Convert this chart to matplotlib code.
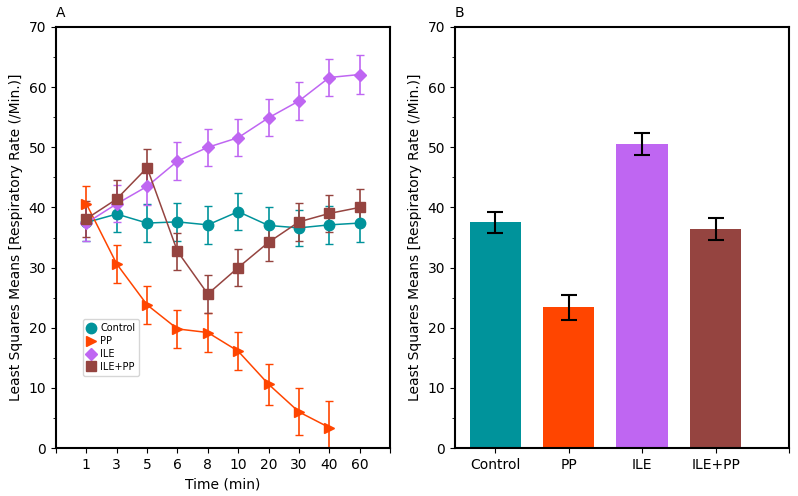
import matplotlib.pyplot as plt
from matplotlib.ticker import MultipleLocator
from matplotlib.lines import Line2D
import numpy as np

# time course data (panel A)
times = ['1', '3', '5', '6', '8', '10', '20', '30', '40', '60']
control = [37.5, 38.9, 37.4, 37.6, 37.1, 39.3, 37.0, 36.6, 37.1, 37.4]
control_err = [3.0, 3.0, 3.1, 3.1, 3.1, 3.1, 3.1, 3.0, 3.1, 3.1]
pp = [40.6, 30.6, 23.8, 19.8, 19.2, 16.1, 10.6, 6.0, 3.4]
pp_err = [3.0, 3.1, 3.1, 3.2, 3.3, 3.2, 3.4, 3.9, 4.4]
ile = [37.4, 40.6, 43.5, 47.7, 50.0, 51.6, 54.9, 57.7, 61.6, 62.1]
ile_err = [3.0, 3.1, 3.1, 3.1, 3.1, 3.1, 3.1, 3.1, 3.1, 3.2]
ilepp = [38.1, 41.4, 46.6, 32.7, 25.6, 30.0, 34.2, 37.6, 39.0, 40.0]
ilepp_err = [3.0, 3.1, 3.1, 3.1, 3.1, 3.1, 3.1, 3.1, 3.1, 3.1]

# overall means (panel B)
groups = ['Control', 'PP', 'ILE', 'ILE+PP']
means = [37.5, 23.4, 50.6, 36.4]
means_err = [1.7, 2.05, 1.8, 1.85]

colors = ['#00939b', '#ff4500', '#bf66f2', '#954440']

fig = plt.figure(figsize=(7.98, 4.96), dpi=100)
ax1 = fig.add_axes([56/798, 1 - 448/496, 334/798, 421/496])
ax2 = fig.add_axes([455/798, 1 - 448/496, 334/798, 421/496])

x = np.arange(len(times))
series = [
    ('Control', control, control_err, 'o'),
    ('PP', pp, pp_err, '>'),
    ('ILE', ile, ile_err, 'D'),
    ('ILE+PP', ilepp, ilepp_err, 's'),
]
handles = []
for (name, vals, errs, m), c in zip(series, colors):
    xs = x[:len(vals)]
    ms = 6.5 if m == 'D' else 7.5
    ax1.errorbar(xs, vals, yerr=errs, color=c, marker=m, markersize=ms,
                 lw=1.1, capsize=3, elinewidth=1.2)
    handles.append(Line2D([], [], color=c, marker=m, markersize=ms, ls='none', label=name))

ax1.set_xlim(-1, 10)
ax1.set_xticks(np.arange(-1, 11))
ax1.set_xticklabels([''] + times + [''])
ax1.set_ylim(0, 70)
ax1.yaxis.set_major_locator(MultipleLocator(10))
ax1.yaxis.set_minor_locator(MultipleLocator(5))
ax1.set_xlabel('Time (min)', fontsize=10)
ax1.set_ylabel('Least Squares Means [Respiratory Rate (/Min.)]', fontsize=10)
ax1.set_title('A', loc='left', fontsize=10, pad=7)
ax1.legend(handles=handles, loc='lower left', bbox_to_anchor=(0.065, 0.16), fontsize=7,
           handletextpad=0.4, handlelength=1.0, borderpad=0.4, labelspacing=0.3)

xb = np.arange(len(groups))
ax2.bar(xb, means, width=0.7, color=colors)
ax2.errorbar(xb, means, yerr=means_err, fmt='none', ecolor='black', capsize=6, elinewidth=1.5, capthick=1.5)
ax2.set_xlim(-0.55, 4)
ax2.set_xticks(np.arange(5))
ax2.set_xticklabels(groups + [''])
ax2.set_ylim(0, 70)
ax2.yaxis.set_major_locator(MultipleLocator(10))
ax2.yaxis.set_minor_locator(MultipleLocator(5))
ax2.set_ylabel('Least Squares Means [Respiratory Rate (/Min.)]', fontsize=10)
ax2.set_title('B', loc='left', fontsize=10, pad=7)

for ax in (ax1, ax2):
    ax.tick_params(labelsize=10)
    for s in ax.spines.values():
        s.set_linewidth(1.5)

fig.savefig('out.png', dpi=100)
